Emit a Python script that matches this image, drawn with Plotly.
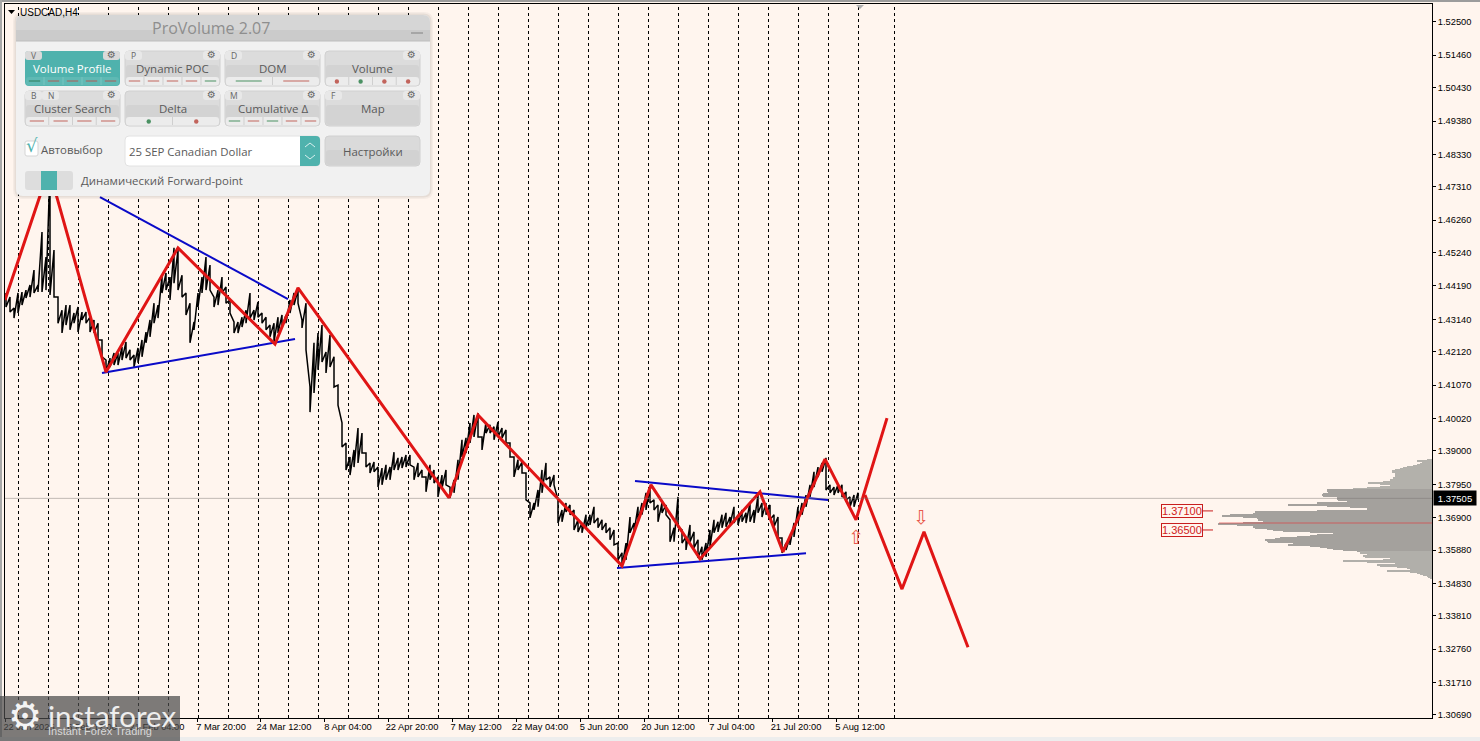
import plotly.graph_objects as go

# ---------- data ----------
price_high = [
1.4397,1.4384,1.4350,1.4397,1.4400,1.4406,1.4422,1.4469,1.4422,1.4589,1.4510,1.4784,1.4532,1.4384,1.4343,1.4359,
1.4359,1.4334,1.4353,1.4337,1.4337,1.4321,1.4312,1.4302,1.4249,1.4186,1.4192,1.4208,1.4208,1.4227,1.4243,1.4218,
1.4202,1.4224,1.4249,1.4274,1.4312,1.4365,1.4359,1.4453,1.4460,1.4447,1.4539,1.4532,1.4453,1.4397,1.4365,1.4306,
1.4397,1.4447,1.4510,1.4485,1.4384,1.4406,1.4447,1.4416,1.4375,1.4306,1.4306,1.4321,1.4343,1.4397,1.4343,1.4369,
1.4334,1.4321,1.4296,1.4302,1.4321,1.4328,1.4328,1.4375,1.4397,1.4406,1.4312,1.4365,1.4101,1.4240,1.4271,1.4296,
1.4211,1.4265,1.4196,1.4107,1.3988,1.3925,1.3881,1.3903,1.3972,1.3956,1.3893,1.3862,1.3865,1.3849,1.3846,1.3856,
1.3849,1.3896,1.3878,1.3881,1.3887,1.3887,1.3849,1.3862,1.3840,1.3818,1.3856,1.3840,1.3818,1.3824,1.3840,1.3786,
1.3809,1.3872,1.3935,1.3941,1.3988,1.4013,1.4019,1.3944,1.3991,1.3982,1.3976,1.3991,1.3972,1.3966,1.3925,1.3881,
1.3872,1.3865,1.3830,1.3736,1.3736,1.3777,1.3840,1.3862,1.3818,1.3824,1.3746,1.3714,1.3736,1.3730,1.3714,1.3683,
1.3673,1.3699,1.3699,1.3724,1.3689,1.3683,1.3673,1.3658,1.3651,1.3610,1.3579,1.3610,1.3692,1.3673,1.3724,1.3736,
1.3768,1.3786,1.3746,1.3730,1.3736,1.3730,1.3683,1.3658,1.3755,1.3651,1.3629,1.3667,1.3645,1.3620,1.3598,1.3610,
1.3651,1.3683,1.3677,1.3699,1.3705,1.3692,1.3724,1.3699,1.3714,1.3705,1.3736,1.3714,1.3761,1.3736,1.3736,1.3730,
1.3699,1.3692,1.3626,1.3610,1.3629,1.3673,1.3724,1.3736,1.3761,1.3793,1.3834,1.3849,1.3862,1.3878,1.3793,1.3786,
1.3793,1.3793,1.3771,1.3755,1.3761,1.3768]
price_low = [
1.4353,1.4337,1.4318,1.4334,1.4359,1.4381,1.4384,1.4397,1.4400,1.4400,1.4406,1.4391,1.4384,1.4302,1.4271,1.4296,
1.4281,1.4302,1.4274,1.4312,1.4302,1.4274,1.4271,1.4249,1.4196,1.4148,1.4164,1.4170,1.4170,1.4186,1.4192,1.4186,
1.4164,1.4177,1.4196,1.4240,1.4259,1.4302,1.4318,1.4397,1.4406,1.4375,1.4428,1.4406,1.4384,1.4328,1.4240,1.4281,
1.4353,1.4397,1.4406,1.4406,1.4353,1.4359,1.4397,1.4365,1.4334,1.4271,1.4271,1.4290,1.4302,1.4318,1.4312,1.4321,
1.4302,1.4281,1.4259,1.4243,1.4271,1.4290,1.4302,1.4334,1.4359,1.4365,1.4287,1.4218,1.4022,1.4082,1.4155,1.4180,
1.4145,1.4164,1.4101,1.4044,1.3912,1.3840,1.3824,1.3849,1.3862,1.3893,1.3849,1.3830,1.3834,1.3786,1.3793,1.3809,
1.3809,1.3840,1.3840,1.3846,1.3849,1.3856,1.3809,1.3818,1.3818,1.3771,1.3809,1.3799,1.3755,1.3783,1.3793,1.3752,
1.3768,1.3809,1.3881,1.3893,1.3925,1.3944,1.3944,1.3903,1.3956,1.3956,1.3935,1.3944,1.3941,1.3925,1.3881,1.3818,
1.3840,1.3830,1.3746,1.3689,1.3714,1.3724,1.3768,1.3809,1.3786,1.3793,1.3673,1.3677,1.3708,1.3699,1.3651,1.3645,
1.3642,1.3658,1.3667,1.3673,1.3658,1.3651,1.3642,1.3620,1.3604,1.3557,1.3534,1.3557,1.3642,1.3645,1.3677,1.3699,
1.3714,1.3736,1.3714,1.3677,1.3705,1.3699,1.3614,1.3614,1.3661,1.3610,1.3588,1.3614,1.3595,1.3563,1.3557,1.3566,
1.3598,1.3642,1.3645,1.3658,1.3661,1.3667,1.3673,1.3667,1.3677,1.3673,1.3677,1.3673,1.3705,1.3692,1.3699,1.3683,
1.3661,1.3626,1.3579,1.3588,1.3604,1.3629,1.3673,1.3699,1.3724,1.3755,1.3786,1.3818,1.3834,1.3777,1.3768,1.3761,
1.3768,1.3755,1.3746,1.3724,1.3724,1.3746]
bar_slots = list(range(6, 862, 4))

zigzag_slots = [5, 49, 106, 178, 275, 298, 449, 478, 622, 651, 700, 760, 783, 825, 856, 887]
zigzag_prices = [1.4375, 1.4787, 1.4148, 1.4539, 1.4236, 1.4413, 1.3752, 1.4013, 1.3538, 1.3793, 1.3560, 1.3771, 1.3582, 1.3874, 1.3683, 1.4003]
forecast_slots = [865, 902, 924, 968]
forecast_prices = [1.3761, 1.3465, 1.3645, 1.3282]
trend_slots = [[100, 288], [102, 295], [635, 828], [617, 806]]
trend_prices = [[1.4699, 1.4378], [1.4145, 1.4252], [1.3805, 1.3745], [1.3531, 1.3578]]
signal_slots = [856, 921]
signal_prices = [1.3623, 1.3686]
signal_glyphs = ["⇧", "⇩"]

level_prices = [1.3711, 1.3651]
level_labels = ["1.37100", "1.36500"]
last_price = 1.37505
last_label = "1.37505"
poc_price = 1.3673

profile_top = 1.3872
profile_step = 0.000315
profile_volume = [
5,15,10,9,12,15,19,25,29,32,37,40,40,34,37,34,37,35,39,39,42,42,49,64,52,42,39,52,65,79,
105,105,102,104,109,110,109,95,95,95,94,85,65,115,109,144,105,82,65,49,65,115,177,152,179,202,210,189,175,
165,174,169,152,189,214,195,179,179,177,165,159,149,122,89,99,115,122,135,152,157,167,165,164,139,135,144,
122,112,105,99,89,75,72,72,54,65,69,67,42,40,49,89,65,37,35,55,52,35,25,19,22,45,22,15,12,9,5,4,2]

separator_slots = [18, 48, 78, 108, 138, 168, 198, 228, 258, 288, 318, 348, 378, 408, 438, 468, 498, 528, 558, 588,
                   618, 648, 678, 708, 738, 768, 798, 828, 858, 894]

x_tick_slots = [5, 68, 133, 197, 260, 324, 388, 452, 516, 580, 644, 708, 772, 836]
x_tick_labels = ["22 Jan 2025", "6 Feb 12:00", "21 Feb 04:00", "7 Mar 20:00", "24 Mar 12:00", "8 Apr 04:00", "22 Apr 20:00",
                 "7 May 12:00", "22 May 04:00", "5 Jun 20:00", "20 Jun 12:00", "7 Jul 04:00", "21 Jul 20:00", "5 Aug 12:00"]
y_tick_values = [1.52500, 1.51460, 1.50430, 1.49380, 1.48330, 1.47310, 1.46260, 1.45240, 1.44190, 1.43140, 1.42120,
                 1.41070, 1.40020, 1.39000, 1.37950, 1.36900, 1.35880, 1.34830, 1.33810, 1.32760, 1.31710, 1.30690]

# ---------- styling ----------
W, H = 1480, 741
AL, AB = 2, 739   # the drawing area plotly actually used: starts 2px in, ends 2px up
CREAM = "#fff5ee"
RED = "#e01515"
BLUE = "#0a0ac8"
TICK_FONT = "Liberation Sans"
UI_FONT = "Open Sans"
TEAL = "#4fb2ad"
UI_TEXT = "#5a5a5a"

fig = go.Figure()

n = min(len(price_high), len(price_low), len(bar_slots))
line_x, line_y = [], []
for i in range(n):
    line_x += [bar_slots[i], bar_slots[i]]
    line_y += [price_high[i], price_low[i]]
fig.add_trace(go.Scatter(x=line_x, y=line_y, mode="lines", line=dict(color="#000000", width=1.5), hoverinfo="skip"))

for xs, ys in zip(trend_slots, trend_prices):
    fig.add_trace(go.Scatter(x=xs, y=ys, mode="lines", line=dict(color=BLUE, width=2), hoverinfo="skip"))
fig.add_trace(go.Scatter(x=zigzag_slots, y=zigzag_prices, mode="lines", line=dict(color=RED, width=3), hoverinfo="skip"))
fig.add_trace(go.Scatter(x=forecast_slots, y=forecast_prices, mode="lines", line=dict(color=RED, width=3), hoverinfo="skip"))
fig.add_trace(go.Scatter(x=signal_slots, y=signal_prices, mode="text", text=signal_glyphs,
                         textfont=dict(family="DejaVu Sans", size=19, color="#e8584a"), hoverinfo="skip"))

profile_levels = [profile_top - i * profile_step for i in range(len(profile_volume))]
profile_colors = ["#b3b1ab" if i < 30 else "#a4a19d" if i < 92 else "#b1afaa" for i in range(len(profile_volume))]
fig.add_trace(go.Bar(y=profile_levels, x=[-v for v in profile_volume], base=1432, orientation="h",
                     width=profile_step * 1.05, marker=dict(color=profile_colors, line=dict(width=0)), hoverinfo="skip"))

shapes, notes = [], []

def rr(x0, y0, x1, y1, r):
    return (f"M{x0+r},{y0} L{x1-r},{y0} Q{x1},{y0} {x1},{y0+r} L{x1},{y1-r} Q{x1},{y1} {x1-r},{y1} "
            f"L{x0+r},{y1} Q{x0},{y1} {x0},{y1-r} L{x0},{y0+r} Q{x0},{y0} {x0+r},{y0} Z")

def box(x0, y0, x1, y1, fill, r=0, line=None):
    s = dict(type="path", xref="x2", yref="y2", layer="above", path=rr(x0, y0, x1, y1, r) if r else
             f"M{x0},{y0} L{x1},{y0} L{x1},{y1} L{x0},{y1} Z", fillcolor=fill, line=dict(width=1 if line else 0, color=line or fill))
    shapes.append(s)

def edge(x0, y0, x1, y1, fill):
    shapes.append(dict(type="rect", xref="paper", yref="paper", layer="above",
                       x0=(x0 - AL) / (W - AL), x1=(x1 - AL) / (W - AL), y0=(AB - y0) / AB, y1=(AB - y1) / AB,
                       fillcolor=fill, line=dict(width=0)))

def seg(x0, y0, x1, y1, color, width=1):
    shapes.append(dict(type="line", xref="x2", yref="y2", layer="above", x0=x0, y0=y0, x1=x1, y1=y1, line=dict(color=color, width=width)))

def dot(cx, cy, r, color):
    shapes.append(dict(type="circle", xref="x2", yref="y2", layer="above", x0=cx-r, y0=cy-r, x1=cx+r, y1=cy+r,
                       fillcolor=color, line=dict(width=0)))

def text(x, y, s, size=12, color=UI_TEXT, anchor="left", family=UI_FONT, **kw):
    if anchor == "left":
        x -= 2
    notes.append(dict(xref="x2", yref="y2", x=x, y=y - 1, text=s, showarrow=False, xanchor=anchor, yanchor="middle",
                      font=dict(family=family, size=size, color=color), **kw))

# separators, current price and level markers on the price scale
for s in separator_slots:
    shapes.append(dict(type="line", xref="x", yref="y domain", x0=s + 0.5, x1=s + 0.5, y0=0, y1=1, layer="below",
                       line=dict(color="#000000", width=1, dash="3px,3px")))
shapes.append(dict(type="line", xref="x", yref="y", x0=5, x1=1432, y0=last_price, y1=last_price, layer="above",
                   line=dict(color="rgba(120,115,110,0.45)", width=1)))
shapes.append(dict(type="line", xref="x", yref="y", x0=1219, x1=1432, y0=poc_price, y1=poc_price, layer="above",
                   line=dict(color="rgba(225,60,60,0.65)", width=1)))
for p, label in zip(level_prices, level_labels):
    notes.append(dict(xref="x", yref="y", x=1182, y=p, text=label, showarrow=False, xanchor="center", yanchor="middle",
                      font=dict(family=TICK_FONT, size=11, color="#d02020"), bordercolor="#c81e1e", borderwidth=1, borderpad=0))
    shapes.append(dict(type="line", xref="x", yref="y", x0=1203, x1=1213, y0=p, y1=p, layer="above",
                       line=dict(color="#c81e1e", width=1)))

# window edges
edge(0, 0, W, 2, "#9c9c9c")
edge(0, 0, 2, H, "#a8a8a8")
edge(0, 737, W, H, "#ededed")
shapes.append(dict(type="path", xref="x2", yref="y2", layer="above", path="M856,5 L864,5 L860,9 Z", fillcolor="#b0b0b0", line=dict(width=0)))

# symbol caption
shapes.append(dict(type="path", xref="x2", yref="y2", layer="above", path="M8,10 L15,10 L11.5,14 Z", fillcolor="#000000", line=dict(width=0)))
text(20, 13, "USDCAD,H4", size=10, color="#000000", family=TICK_FONT)

# ProVolume panel
box(13, 12, 433, 199, "rgba(0,0,0,0.04)", r=9)
box(14.5, 13.5, 431.5, 197.5, "rgba(0,0,0,0.06)", r=8)
box(16, 15, 430, 196, "#f1f1f1", r=7)
box(16, 15, 430, 41, "#d6d6d6", r=7)
box(16, 30, 430, 41, "#cbcbcb")
seg(16, 41, 430, 41, "#bdbdbd")
text(211, 29, "ProVolume 2.07", size=16, color="#8e8e8e", anchor="center")
seg(411, 33, 423, 33, "#a6a6a6", 2)

GREEN_C, RED_C = "#4b9163", "#c2645c"
buttons = [
    (25, 51, "Volume Profile", ["V"], "GRRRR", "-", True),
    (125, 51, "Dynamic POC", ["P"], "RRRRG", "-", False),
    (225, 51, "DOM", ["D"], "GR", "-", False),
    (325, 51, "Volume", [], "RGRR", ".", False),
    (25, 91, "Cluster Search", ["B", "N"], "RRRR", "-", False),
    (125, 91, "Delta", [], "GR", ".", False),
    (225, 91, "Cumulative Δ", ["M"], "GRGRR", "-", False),
    (325, 91, "Map", ["F"], "", "-", False),
]
for bx, by, label, keys, marks, kind, active in buttons:
    bw, bh = 95, 35
    if active:
        box(bx, by, bx + bw, by + bh, TEAL, r=4)
    else:
        box(bx, by, bx + bw, by + bh, "#dcdcdc", r=4, line="#d0d0d0")
        box(bx + 1, by + 14, bx + bw - 1, by + bh - 1, "#d3d3d3", r=3)
    # key tabs and settings tab
    tx = bx
    for k in keys:
        box(tx, by, tx + 17, by + 9, "#dadada" if active else "#e8e8e8", r=3)
        text(tx + 8.5, by + 5, k, size=8.5, color="#666666", anchor="center")
        tx += 17
    box(bx + bw - 17, by, bx + bw, by + 9, "#dadada" if active else "#e8e8e8", r=3)
    text(bx + bw - 8.5, by + 4.5, "⚙", size=10, color="#666666", anchor="center", family="DejaVu Sans")
    text(bx + bw / 2, by + 18, label, size=11.5, color="#ffffff" if active else UI_TEXT, anchor="center")
    if marks:
        strip_top = by + 26
        box(bx + 1, strip_top, bx + bw - 1, by + bh - 0.5, "#5fb9b4" if active else "#ececec", r=3)
        w = bw / len(marks)
        for i, m in enumerate(marks):
            c = GREEN_C if m == "G" else RED_C
            if active:
                c = "#2e7d5a" if m == "G" else "#b05a55"
            cx = bx + w * (i + 0.5)
            if kind == ".":
                dot(cx, strip_top + 4.5, 2.2, c)
            else:
                half = min(w * 0.3, 13)
                seg(cx - half, strip_top + 4, cx + half, strip_top + 4, c, 1)
            if i:
                seg(bx + w * i, strip_top, bx + w * i, by + bh - 1, "#cfcfcf" if not active else "#79c5c1")

# checkbox, instrument selector, settings, toggle
box(25, 141, 38, 156, "#ffffff", r=2, line="#d5d5d5")
text(25.5, 146, "√", size=18, color=TEAL, family="DejaVu Sans")
text(41, 150, "Автовыбор", size=11.4)
box(125, 136, 320, 166, "#ffffff", r=4, line="#e2e2e2")
text(129, 152, "25 SEP Canadian Dollar", size=11.4)
box(300, 136, 320, 166, TEAL, r=4)
box(300, 136, 306, 166, TEAL)
for a, b in (((305, 147), (310, 143)), ((310, 143), (315, 147)), ((305, 155), (310, 159)), ((310, 159), (315, 155))):
    seg(a[0], a[1], b[0], b[1], "#d8efee", 1)
box(325, 136, 420, 166, "#dadada", r=4, line="#d0d0d0")
box(326, 150, 419, 165, "#d2d2d2", r=3)
text(372.5, 152, "Настройки", size=11.4, anchor="center")
box(25, 171, 73, 190, "#dddddd", r=3)
box(41, 171, 57, 190, TEAL)
text(81, 181, "Динамический Forward-point", size=11.4)

# watermark
edge(0, 696, 180, H, "rgba(75,75,75,0.72)")
text(25, 717, "⚙", size=38, color="#f4f4f4", anchor="center", family="DejaVu Sans")
text(48, 716, "instaforex", size=29.5, color="#eeeeee", family="Lato")
text(48, 732, "Instant Forex Trading", size=11, color="#d8d8d8", family="Liberation Sans")

# last price tag
text(1455, 499, last_label, size=9.5, color="#ffffff", anchor="center", family=TICK_FONT, bgcolor="#000000", borderpad=1.5, width=39)

fig.update_layout(
    width=W, height=H, autosize=False, margin=dict(l=0, r=0, t=0, b=0, pad=0), showlegend=False,
    paper_bgcolor=CREAM, plot_bgcolor="rgba(0,0,0,0)", barmode="overlay", shapes=shapes, annotations=notes,
    xaxis=dict(domain=[(5 - AL) / (W - AL), (1432 - AL) / (W - AL)], range=[5, 1432], anchor="y", side="bottom", tickmode="array",
               tickvals=x_tick_slots, ticktext=x_tick_labels, ticks="outside", ticklen=3, tickcolor="#000000",
               ticklabelshift=24, ticklabelstandoff=-3, tickangle=0, showgrid=False, zeroline=False, showline=True, mirror=True,
               linecolor="#000000", linewidth=1, tickfont=dict(family=TICK_FONT, size=9.3, color="#000000")),
    yaxis=dict(domain=[(AB - 718) / AB, (AB - 4) / AB], range=[1.30592, 1.53066], anchor="x", side="right", tickmode="array",
               tickvals=y_tick_values, ticktext=[f"{v:.5f}" for v in y_tick_values], ticks="outside", ticklen=3,
               tickcolor="#000000", showgrid=False, zeroline=False, showline=True, mirror=True,
               linecolor="#000000", linewidth=1, tickfont=dict(family=TICK_FONT, size=9.3, color="#000000")),
    xaxis2=dict(domain=[0, 1], range=[AL, W], anchor="y2", visible=False, fixedrange=True),
    yaxis2=dict(domain=[0, 1], range=[AB, 0], anchor="x2", visible=False, fixedrange=True),
)

fig.write_html("out.html", config=dict(displayModeBar=False),
               post_script="document.body.style.margin='0';document.body.style.overflow='hidden';")
